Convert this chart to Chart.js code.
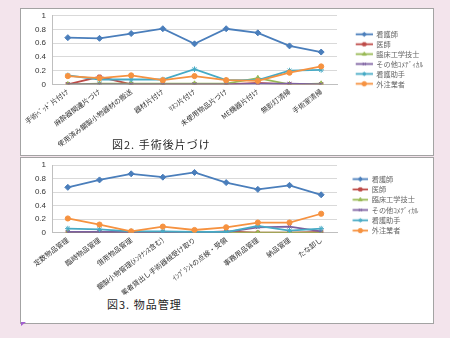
<!DOCTYPE html>
<html lang="ja">
<head>
<meta charset="utf-8">
<script src="https://cdn.jsdelivr.net/npm/chart.js@4.4.1/dist/chart.umd.min.js"></script>
<style>
  body { margin: 0; width: 450px; height: 338px; background: #f3e4ec; position: relative; overflow: hidden; }
  .panel { position: absolute; left: 20px; width: 414px; background: #fff; border: 1px solid #a3a3a3; box-sizing: border-box; }
  #panel1 { top: 8px; height: 148px; }
  #panel2 { top: 157px; height: 167px; }
  canvas { position: absolute; left: 22px; }
  #cleanup { top: 9px; }
  #supply { top: 158px; }
  .caption { position: absolute; font-family: "Noto Sans CJK JP", sans-serif; font-size: 11px; line-height: 11px; color: #262626; letter-spacing: 1px; white-space: nowrap; }
  #cap1 { left: 112px; top: 139px; }
  #cap2 { left: 107px; top: 299px; }
  .corner { position: absolute; left: 21px; top: 322px; width: 0; height: 0; border-top: 4px solid #a35fd0; border-right: 5px solid transparent; }
</style>
</head>
<body>
<div class="panel" id="panel1"></div>
<div class="panel" id="panel2"></div>
<canvas id="cleanup" width="405" height="138"></canvas>
<canvas id="supply" width="401" height="137"></canvas>
<div class="caption" id="cap1">図2. 手術後片づけ</div>
<div class="caption" id="cap2">図3. 物品管理</div>
<div class="corner"></div>
<script>
// 職種（系列名）
const staff = ['看護師', '医師', '臨床工学技士', 'その他ｺﾒﾃﾞｨｶﾙ', '看護助手', '外注業者'];
const yTicks = [0, 0.2, 0.4, 0.6, 0.8, 1];

// 図2 手術後片づけ
const cleanupTasks = ['手術ﾍﾞｯﾄﾞ片付け', '麻酔器関連片づけ', '使用済み鋼製小物器材の搬送', '器材片付け', 'ﾘﾈﾝ片付け', '未使用物品片づけ', 'ME機器片付け', '無影灯清掃', '手術室清掃'];
const cleanupNurse = [0.68, 0.67, 0.74, 0.81, 0.59, 0.81, 0.75, 0.56, 0.47];
const cleanupDoctor = [0, 0.11, 0, 0, 0, 0, 0.02, 0, 0];
const cleanupCE = [0, 0.01, 0.01, 0.01, 0.01, 0.01, 0.09, 0, 0.01];
const cleanupCoMedical = [0, 0, 0, 0, 0, 0, 0.01, 0.01, 0];
const cleanupAide = [0.13, 0.07, 0.07, 0.07, 0.22, 0.06, 0.06, 0.2, 0.21];
const cleanupVendor = [0.12, 0.09, 0.13, 0.06, 0.12, 0.06, 0.05, 0.17, 0.26];

// 図3 物品管理
const supplyTasks = ['定数物品管理', '臨時物品管理', '借用物品管理', '鋼製小物管理(ﾒﾝﾃﾅﾝｽ含む)', '業者貸出し手術器械受け取り', 'ｲﾝﾌﾟﾗﾝﾄの点検・受領', '事務用品管理', '納品管理', 'たな卸し'];
const supplyNurse = [0.67, 0.78, 0.87, 0.82, 0.89, 0.74, 0.64, 0.70, 0.56];
const supplyDoctor = [0.01, 0.01, 0, 0, 0, 0.02, 0, 0, 0.01];
const supplyCE = [0, 0, 0, 0, 0, 0, 0, 0, 0];
const supplyCoMedical = [0.01, 0.01, 0.01, 0.01, 0, 0.01, 0.08, 0.09, 0.02];
const supplyAide = [0.06, 0.05, 0.02, 0.02, 0.01, 0.01, 0.1, 0.03, 0.06];
const supplyVendor = [0.21, 0.12, 0.02, 0.09, 0.04, 0.08, 0.15, 0.15, 0.28];

const colors = ['#4a7ebb', '#be4b48', '#98b954', '#7d60a0', '#46aac5', '#f69240'];
const markers = ['rectRot', 'rect', 'triangle', 'crossRot', 'star', 'circle'];
const markerSize = [3, 2.4, 2.8, 2.6, 2.8, 2.6];

function makeDatasets(series) {
  return series.map((values, i) => ({
    label: staff[i],
    data: values,
    borderColor: colors[i],
    backgroundColor: colors[i],
    borderWidth: 1.8,
    pointStyle: markers[i],
    pointRadius: markerSize[i],
    pointBorderWidth: 1,
    tension: 0,
    order: series.length - i // 後の系列を上に描く
  }));
}

// 凡例用のアイコン（線＋マーカー）
function legendIcon(i, width, lineStart) {
  const c = document.createElement('canvas');
  c.width = width;
  c.height = 9;
  const ctx = c.getContext('2d');
  ctx.strokeStyle = colors[i];
  ctx.fillStyle = colors[i];
  ctx.lineWidth = 1.8;
  ctx.beginPath();
  ctx.moveTo(lineStart, 4.5);
  ctx.lineTo(width, 4.5);
  ctx.stroke();
  ctx.lineWidth = 1;
  const mx = (lineStart + width) / 2;
  if (Chart.helpers && Chart.helpers.drawPoint) {
    Chart.helpers.drawPoint(ctx, { pointStyle: markers[i], radius: 2.2, rotation: 0, borderWidth: 1 }, mx, 4.5);
  } else {
    ctx.beginPath();
    ctx.arc(mx, 4.5, 2, 0, Math.PI * 2);
    ctx.fill();
  }
  return c;
}

function makeChart(id, tasks, series, g) {
  return new Chart(document.getElementById(id), {
    type: 'line',
    data: { labels: tasks, datasets: makeDatasets(series) },
    options: {
      responsive: false,
      animation: false,
      layout: { padding: { left: 13, top: g.top, right: 0, bottom: g.bottom } },
      scales: {
        x: {
          offset: true,
          grid: { display: false, drawTicks: false },
          border: { display: true, color: '#bfbfbf' },
          ticks: {
            autoSkip: false,
            minRotation: 37,
            maxRotation: 37,
            padding: 3,
            color: '#333',
            font: { family: '"Noto Sans CJK JP"', size: 7 }
          },
          afterFit(scale) {
            scale.height = 62;
            scale.paddingLeft = 0;
            scale.paddingRight = 0;
          }
        },
        y: {
          min: 0,
          max: 1,
          grid: { color: '#d9d9d9', drawTicks: false },
          border: { display: true, color: '#bfbfbf' },
          ticks: {
            padding: 6,
            color: '#333',
            font: { family: '"Liberation Sans"', size: 8 },
            callback: v => String(v)
          },
          afterBuildTicks(scale) {
            scale.ticks = yTicks.map(v => ({ value: v }));
          },
          afterFit(scale) {
            scale.width = 17;
            scale.paddingTop = 0;
            scale.paddingBottom = 0;
          }
        }
      },
      plugins: {
        tooltip: { enabled: false },
        legend: {
          position: 'right',
          align: 'start',
          maxWidth: g.legendWidth,
          title: { display: true, text: '', font: { size: 1 }, padding: { top: g.legendTop, bottom: 0 } },
          labels: {
            usePointStyle: true,
            pointStyleWidth: g.iconWidth,
            padding: g.gap,
            color: '#333',
            font: { family: '"Noto Sans CJK JP"', size: 7.2 },
            generateLabels: chart => chart.data.datasets.map((ds, i) => ({
              text: ds.label,
              pointStyle: legendIcon(i, g.iconWidth, g.lineStart),
              fillStyle: 'transparent',
              strokeStyle: 'transparent',
              lineWidth: 0,
              hidden: false,
              datasetIndex: i
            }))
          }
        }
      }
    }
  });
}

makeChart('cleanup', cleanupTasks,
  [cleanupNurse, cleanupDoctor, cleanupCE, cleanupCoMedical, cleanupAide, cleanupVendor],
  { top: 6.7, bottom: 0.7, legendWidth: 90, legendTop: 11.1, iconWidth: 33, lineStart: 16, gap: 2.7 });

makeChart('supply', supplyTasks,
  [supplyNurse, supplyDoctor, supplyCE, supplyCoMedical, supplyAide, supplyVendor],
  { top: 7, bottom: 0.3, legendWidth: 86, legendTop: 6.2, iconWidth: 28, lineStart: 12.5, gap: 3.1 });
</script>
</body>
</html>
